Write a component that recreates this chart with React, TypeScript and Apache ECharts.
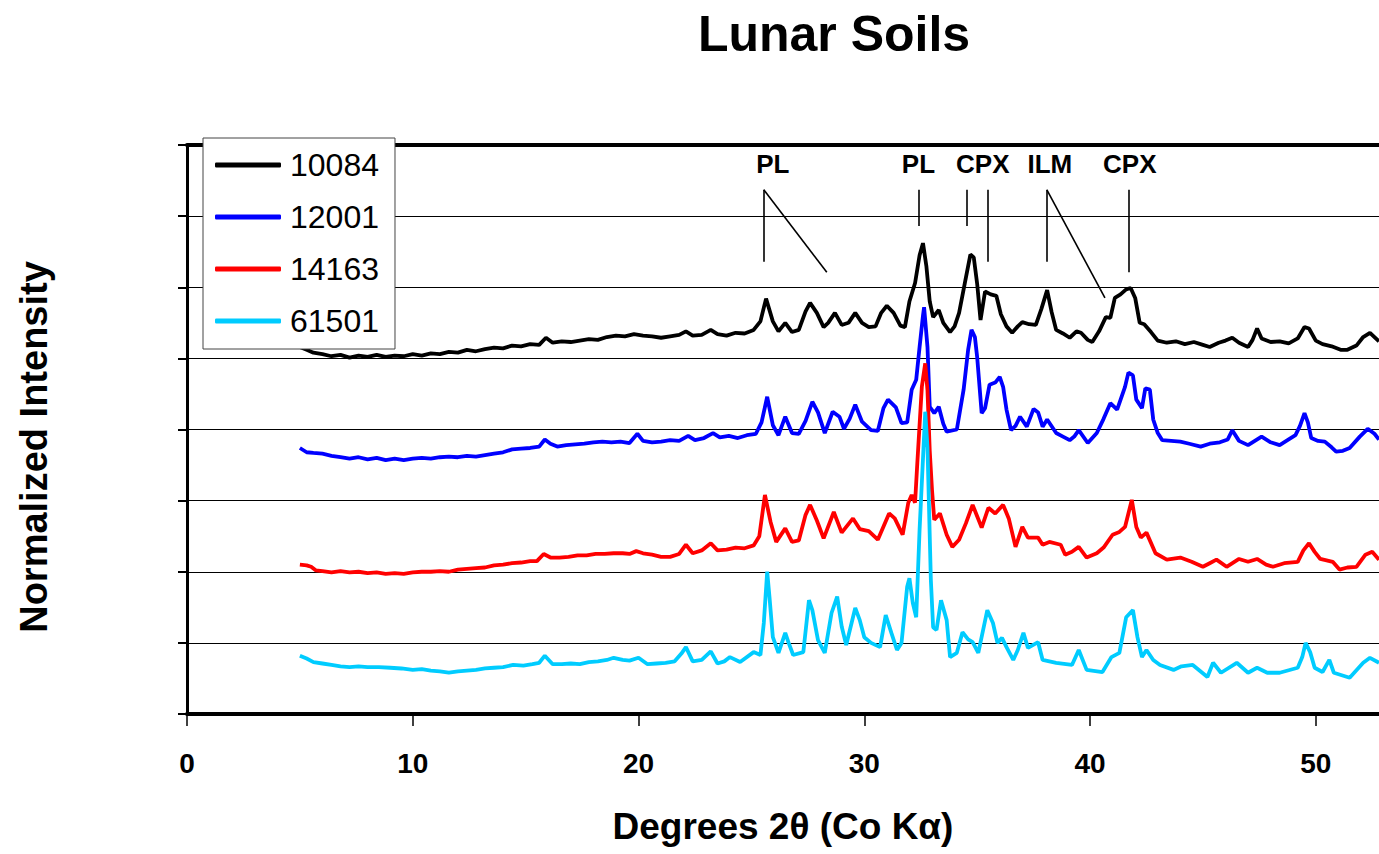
import React, { useEffect, useRef } from "react";
import * as echarts from "echarts";

const SERIES_NAMES = ["10084", "12001", "14163", "61501"];
const SERIES_COLORS = ["#000000", "#0000FF", "#FF0000", "#00CCFF"];

const S10084: number[][] = [
  [5.0,5.16],[5.3,5.12],[5.6,5.08],[6.0,5.06],[6.4,5.03],[6.8,5.05],[7.2,5.01],[7.6,5.04],[8.0,5.02],[8.4,5.05],[8.8,5.02],[9.2,5.04],[9.6,5.03],[10.0,5.06],[10.4,5.04],[10.8,5.07],[11.2,5.06],[11.6,5.09],[12.0,5.08],[12.4,5.12],[12.8,5.10],[13.2,5.13],[13.6,5.15],[14.0,5.14],[14.4,5.18],[14.8,5.17],[15.2,5.20],[15.6,5.19],[15.9,5.29],[16.2,5.22],[16.6,5.24],[17.0,5.23],[17.4,5.25],[17.8,5.27],[18.2,5.26],[18.6,5.30],[19.0,5.32],[19.4,5.31],[19.8,5.34],[20.2,5.32],[20.6,5.31],[21.0,5.29],[21.4,5.31],[21.8,5.33],[22.1,5.38],[22.4,5.32],[22.8,5.33],[23.2,5.40],[23.5,5.34],[23.9,5.32],[24.3,5.36],[24.7,5.35],[25.1,5.40],[25.4,5.52],[25.65,5.84],[25.95,5.52],[26.2,5.38],[26.5,5.50],[26.8,5.37],[27.1,5.40],[27.4,5.66],[27.6,5.78],[27.9,5.64],[28.2,5.44],[28.4,5.50],[28.7,5.64],[29.0,5.47],[29.3,5.50],[29.6,5.64],[29.9,5.50],[30.2,5.44],[30.5,5.45],[30.75,5.64],[31.0,5.74],[31.3,5.64],[31.6,5.46],[31.8,5.44],[32.0,5.80],[32.25,6.06],[32.45,6.45],[32.6,6.62],[32.75,6.30],[32.9,5.80],[33.05,5.58],[33.3,5.68],[33.5,5.50],[33.8,5.37],[34.0,5.45],[34.2,5.64],[34.45,6.05],[34.7,6.46],[34.85,6.42],[35.0,6.05],[35.15,5.54],[35.35,5.94],[35.6,5.90],[35.85,5.88],[36.05,5.62],[36.3,5.45],[36.55,5.36],[36.8,5.45],[37.0,5.51],[37.3,5.48],[37.6,5.47],[37.85,5.70],[38.1,5.96],[38.3,5.65],[38.5,5.40],[38.8,5.35],[39.1,5.29],[39.4,5.38],[39.6,5.36],[39.9,5.26],[40.1,5.23],[40.4,5.38],[40.7,5.58],[40.9,5.57],[41.1,5.85],[41.35,5.90],[41.6,5.97],[41.8,5.99],[42.0,5.85],[42.2,5.50],[42.4,5.48],[42.7,5.37],[43.0,5.25],[43.4,5.22],[43.8,5.24],[44.2,5.20],[44.6,5.23],[45.0,5.19],[45.3,5.16],[45.7,5.22],[46.0,5.25],[46.3,5.29],[46.6,5.22],[47.0,5.16],[47.2,5.26],[47.4,5.42],[47.6,5.28],[48.0,5.23],[48.4,5.24],[48.8,5.21],[49.2,5.28],[49.5,5.44],[49.7,5.42],[50.0,5.25],[50.3,5.20],[50.7,5.17],[51.1,5.12],[51.4,5.12],[51.8,5.18],[52.1,5.30],[52.4,5.36],[52.6,5.30],[52.8,5.24]
];

const S12001: number[][] = [
  [5.0,3.74],[5.3,3.68],[5.6,3.67],[6.0,3.66],[6.4,3.63],[6.8,3.61],[7.2,3.59],[7.6,3.61],[8.0,3.58],[8.4,3.60],[8.8,3.57],[9.2,3.59],[9.6,3.57],[10.0,3.59],[10.4,3.60],[10.8,3.59],[11.2,3.61],[11.6,3.62],[12.0,3.61],[12.4,3.63],[12.8,3.62],[13.2,3.64],[13.6,3.66],[14.0,3.68],[14.4,3.72],[14.8,3.73],[15.2,3.74],[15.6,3.76],[15.85,3.86],[16.1,3.80],[16.4,3.76],[16.8,3.78],[17.2,3.79],[17.6,3.80],[18.0,3.82],[18.4,3.83],[18.8,3.82],[19.2,3.83],[19.6,3.81],[19.95,3.94],[20.2,3.84],[20.6,3.82],[21.0,3.83],[21.4,3.85],[21.8,3.84],[22.2,3.91],[22.5,3.85],[22.9,3.88],[23.3,3.95],[23.6,3.89],[24.0,3.91],[24.4,3.88],[24.8,3.92],[25.2,3.94],[25.45,4.10],[25.7,4.46],[25.95,4.06],[26.2,3.92],[26.5,4.18],[26.8,3.95],[27.1,3.94],[27.4,4.12],[27.7,4.39],[27.95,4.24],[28.25,3.95],[28.6,4.25],[28.9,4.18],[29.1,4.01],[29.35,4.15],[29.6,4.35],[29.9,4.11],[30.3,3.99],[30.6,3.98],[30.85,4.30],[31.05,4.42],[31.4,4.31],[31.65,4.09],[31.9,4.10],[32.1,4.56],[32.3,4.70],[32.45,5.16],[32.6,5.60],[32.65,5.72],[32.8,5.16],[32.9,4.32],[33.1,4.23],[33.3,4.32],[33.5,4.08],[33.65,3.97],[34.1,4.00],[34.4,4.56],[34.6,5.12],[34.75,5.40],[34.9,5.30],[35.0,5.02],[35.2,4.23],[35.35,4.30],[35.55,4.63],[35.8,4.66],[36.0,4.74],[36.15,4.60],[36.3,4.28],[36.5,3.99],[36.7,4.05],[36.9,4.18],[37.2,4.04],[37.5,4.29],[37.7,4.24],[37.9,4.04],[38.1,4.14],[38.5,3.95],[38.8,3.90],[39.1,3.85],[39.3,3.90],[39.5,3.99],[39.9,3.81],[40.3,3.95],[40.6,4.15],[40.9,4.37],[41.2,4.28],[41.55,4.60],[41.7,4.80],[41.9,4.76],[42.05,4.42],[42.3,4.30],[42.45,4.58],[42.65,4.56],[42.8,4.14],[43.0,3.95],[43.2,3.85],[43.6,3.84],[44.0,3.83],[44.4,3.80],[44.9,3.76],[45.3,3.80],[45.75,3.82],[46.1,3.86],[46.3,3.99],[46.6,3.84],[47.0,3.78],[47.3,3.84],[47.6,3.90],[48.0,3.82],[48.4,3.78],[48.8,3.86],[49.1,3.92],[49.3,4.05],[49.5,4.23],[49.65,4.10],[49.8,3.88],[50.1,3.84],[50.4,3.83],[50.7,3.75],[50.9,3.69],[51.2,3.70],[51.5,3.74],[51.95,3.90],[52.3,4.01],[52.6,3.94],[52.8,3.86]
];

const S14163: number[][] = [
  [5.0,2.10],[5.3,2.09],[5.5,2.07],[5.7,2.02],[6.0,2.01],[6.4,1.99],[6.8,2.01],[7.2,1.99],[7.6,2.00],[8.0,1.98],[8.4,1.99],[8.8,1.97],[9.2,1.98],[9.6,1.97],[10.0,1.99],[10.4,2.00],[10.8,2.00],[11.2,2.01],[11.6,2.00],[12.0,2.03],[12.4,2.04],[12.8,2.05],[13.2,2.06],[13.6,2.09],[14.0,2.10],[14.4,2.12],[14.8,2.13],[15.2,2.15],[15.5,2.15],[15.8,2.25],[16.1,2.20],[16.5,2.20],[16.9,2.21],[17.3,2.23],[17.7,2.23],[18.1,2.25],[18.5,2.25],[18.9,2.26],[19.3,2.26],[19.6,2.25],[19.9,2.29],[20.2,2.26],[20.6,2.24],[21.0,2.21],[21.4,2.21],[21.8,2.25],[22.1,2.38],[22.4,2.26],[22.8,2.30],[23.2,2.40],[23.5,2.30],[23.9,2.31],[24.3,2.34],[24.7,2.33],[25.1,2.37],[25.35,2.50],[25.6,3.08],[25.85,2.70],[26.1,2.42],[26.5,2.61],[26.8,2.42],[27.1,2.44],[27.4,2.80],[27.6,2.94],[27.9,2.72],[28.2,2.47],[28.65,2.84],[29.0,2.55],[29.5,2.75],[29.8,2.60],[30.2,2.57],[30.6,2.45],[31.1,2.82],[31.35,2.75],[31.7,2.52],[31.95,2.97],[32.1,3.08],[32.25,2.97],[32.35,3.53],[32.55,4.60],[32.7,4.93],[32.8,4.55],[32.9,3.70],[33.0,3.15],[33.1,2.73],[33.35,2.82],[33.65,2.52],[33.9,2.35],[34.2,2.45],[34.5,2.68],[34.8,2.94],[35.0,2.78],[35.2,2.62],[35.5,2.90],[35.8,2.82],[36.15,2.94],[36.4,2.75],[36.7,2.35],[37.0,2.63],[37.25,2.48],[37.7,2.48],[37.9,2.38],[38.2,2.42],[38.7,2.38],[38.9,2.24],[39.2,2.28],[39.5,2.35],[39.85,2.20],[40.3,2.26],[40.6,2.34],[41.0,2.52],[41.3,2.56],[41.55,2.63],[41.7,2.82],[41.85,3.01],[42.05,2.63],[42.25,2.48],[42.5,2.55],[42.9,2.26],[43.4,2.17],[44.0,2.20],[44.5,2.14],[45.0,2.07],[45.3,2.12],[45.6,2.17],[46.05,2.07],[46.6,2.18],[47.0,2.14],[47.4,2.18],[47.8,2.10],[48.1,2.07],[48.6,2.12],[49.2,2.14],[49.45,2.30],[49.7,2.40],[49.95,2.28],[50.2,2.18],[50.75,2.14],[51.05,2.03],[51.4,2.06],[51.8,2.07],[52.2,2.24],[52.5,2.28],[52.8,2.17]
];

const S61501: number[][] = [
  [5.0,0.82],[5.3,0.78],[5.6,0.73],[6.0,0.71],[6.4,0.69],[6.8,0.67],[7.2,0.66],[7.6,0.67],[8.0,0.66],[8.5,0.66],[9.0,0.65],[9.5,0.64],[10.0,0.62],[10.4,0.63],[10.8,0.61],[11.2,0.60],[11.6,0.58],[12.0,0.60],[12.4,0.61],[12.8,0.62],[13.2,0.64],[13.6,0.65],[14.0,0.66],[14.45,0.69],[14.9,0.68],[15.3,0.70],[15.6,0.72],[15.85,0.82],[16.2,0.70],[16.6,0.70],[17.0,0.71],[17.4,0.70],[17.8,0.73],[18.2,0.74],[18.6,0.76],[18.9,0.79],[19.3,0.76],[19.6,0.75],[20.0,0.79],[20.4,0.70],[20.8,0.71],[21.2,0.72],[21.6,0.74],[21.9,0.85],[22.1,0.94],[22.4,0.74],[22.8,0.76],[23.2,0.88],[23.5,0.71],[23.8,0.74],[24.05,0.80],[24.5,0.73],[25.1,0.87],[25.4,0.83],[25.55,1.28],[25.7,2.00],[25.8,1.65],[25.95,1.08],[26.2,0.86],[26.5,1.14],[26.65,1.00],[26.85,0.83],[27.3,0.87],[27.55,1.60],[27.7,1.46],[27.95,1.04],[28.25,0.86],[28.55,1.42],[28.8,1.65],[29.0,1.23],[29.2,0.97],[29.6,1.49],[29.8,1.32],[30.0,1.08],[30.3,1.00],[30.7,0.94],[30.95,1.39],[31.2,1.14],[31.45,0.90],[31.65,1.00],[31.9,1.79],[32.0,1.91],[32.15,1.56],[32.3,1.36],[32.45,2.59],[32.7,4.25],[32.8,3.75],[32.95,1.88],[33.05,1.22],[33.2,1.18],[33.4,1.60],[33.65,1.32],[33.8,0.80],[34.1,0.86],[34.35,1.15],[34.6,1.05],[34.8,1.01],[35.05,0.86],[35.45,1.46],[35.7,1.28],[35.9,1.00],[36.1,1.07],[36.3,0.94],[36.6,0.76],[36.8,0.90],[37.05,1.14],[37.25,0.93],[37.7,1.01],[37.9,0.76],[38.5,0.72],[39.2,0.69],[39.5,0.90],[39.85,0.62],[40.55,0.59],[40.95,0.80],[41.3,0.86],[41.6,1.36],[41.9,1.46],[42.1,1.08],[42.3,0.80],[42.5,0.90],[42.8,0.76],[43.1,0.69],[43.7,0.62],[44.05,0.67],[44.55,0.69],[45.2,0.52],[45.45,0.72],[45.8,0.58],[46.5,0.72],[47.0,0.58],[47.4,0.65],[47.85,0.58],[48.4,0.58],[49.2,0.65],[49.4,0.80],[49.55,1.00],[49.75,0.87],[49.95,0.65],[50.3,0.59],[50.6,0.76],[50.8,0.58],[51.5,0.51],[52.1,0.72],[52.4,0.79],[52.8,0.72]
];

const SERIES_DATA = [S10084, S12001, S14163, S61501];

const X_MIN = 0;
const X_MAX = 52.8;
const X_INTERVAL = 10;
const Y_MIN = 0;
const Y_MAX = 8;
const Y_INTERVAL = 1;

const TITLE = "Lunar Soils";
const X_NAME = "Degrees 2\u03B8 (Co K\u03B1)";
const Y_NAME = "Normalized Intensity";

const ANNOT_LABELS = [
  { text: "PL", x: 25.95, y: 7.73 },
  { text: "PL", x: 32.4, y: 7.73 },
  { text: "CPX", x: 35.25, y: 7.73 },
  { text: "ILM", x: 38.22, y: 7.73 },
  { text: "CPX", x: 41.76, y: 7.73 },
];

const ANNOT_LINES: number[][][] = [
  [[25.55, 7.37], [25.55, 6.36]],
  [[25.55, 7.37], [28.34, 6.21]],
  [[32.42, 7.37], [32.42, 6.86]],
  [[34.54, 7.37], [34.54, 6.86]],
  [[35.47, 7.37], [35.47, 6.36]],
  [[38.09, 7.37], [38.09, 6.36]],
  [[38.09, 7.37], [40.66, 5.85]],
  [[41.72, 7.37], [41.72, 6.21]],
];

export default function App() {
  const ref = useRef<HTMLDivElement>(null);

  useEffect(() => {
    if (!ref.current) return;
    const chart = echarts.init(ref.current, null, { renderer: "svg" });
    const font = "'Liberation Sans', Arial, Helvetica, sans-serif";

    const series: any[] = SERIES_NAMES.map((name, i) => ({
      name,
      type: "line",
      data: SERIES_DATA[i],
      xAxisIndex: 0,
      yAxisIndex: 0,
      symbol: "none",
      showSymbol: false,
      lineStyle: { color: SERIES_COLORS[i], width: 3.8 },
      itemStyle: { color: SERIES_COLORS[i] },
      z: 2 + i,
      ...(i === 0
        ? {
            markLine: {
              silent: true,
              symbol: ["none", "none"],
              label: { show: false },
              lineStyle: { color: "#000", width: 1.6, type: "solid" },
              emphasis: { disabled: true },
              data: ANNOT_LINES.map((l) => [
                { coord: l[0] },
                { coord: l[1] },
              ]),
            },
          }
        : {}),
    }));

    const option: any = {
      animation: false,
      backgroundColor: "#fff",
      textStyle: { fontFamily: font },
      grid: { left: 187, right: 0, top: 145, bottom: 140, containLabel: false },
      legend: {
        data: SERIES_NAMES,
        orient: "vertical",
        left: 203,
        top: 138,
        itemWidth: 66,
        itemHeight: 5,
        itemGap: 20,
        icon: "roundRect",
        padding: [11, 16, 12, 12],
        backgroundColor: "#fff",
        borderColor: "#444",
        borderWidth: 1,
        borderRadius: 0,
        selectedMode: false,
        textStyle: {
          fontSize: 32,
          fontFamily: font,
          color: "#000",
          lineHeight: 32,
          padding: [0, 0, 0, 4],
        },
      },
      xAxis: [
        {
          type: "value",
          min: X_MIN,
          max: X_MAX,
          interval: X_INTERVAL,
          position: "bottom",
          axisLine: { show: true, onZero: false, lineStyle: { color: "#000", width: 4 } },
          axisTick: { show: true, length: 12, lineStyle: { color: "#000", width: 1.5 } },
          axisLabel: {
            show: true,
            showMaxLabel: false,
            margin: 35,
            fontSize: 28,
            fontWeight: "bold",
            fontFamily: font,
            color: "#000",
          },
          splitLine: { show: false },
          name: X_NAME,
          nameLocation: "middle",
          nameGap: 94,
          nameTextStyle: { fontSize: 37, fontWeight: "bold", fontFamily: font, color: "#000" },
        },
        {
          type: "value",
          min: X_MIN,
          max: X_MAX,
          interval: X_INTERVAL,
          position: "top",
          axisLine: { show: true, onZero: false, lineStyle: { color: "#000", width: 4 } },
          axisTick: { show: false },
          axisLabel: { show: false },
          splitLine: { show: false },
        },
      ],
      yAxis: {
        type: "value",
        min: Y_MIN,
        max: Y_MAX,
        interval: Y_INTERVAL,
        axisLine: { show: true, onZero: false, lineStyle: { color: "#000", width: 3 } },
        axisTick: { show: true, length: 9, lineStyle: { color: "#000", width: 2 } },
        axisLabel: { show: false },
        splitLine: { show: true, lineStyle: { color: "#000", width: 1 } },
      },
      series,
    };

    chart.setOption(option);

    const labelGraphics = ANNOT_LABELS.map((a) => {
      const p = chart.convertToPixel({ xAxisIndex: 0, yAxisIndex: 0 } as any, [a.x, a.y]) as number[];
      return {
        type: "text",
        x: p[0],
        y: p[1],
        z: 10,
        silent: true,
        style: {
          text: a.text,
          font: `bold 26px ${font}`,
          fill: "#000",
          align: "center",
          verticalAlign: "middle",
        },
      };
    });

    chart.setOption({
      graphic: [
        {
          type: "text",
          x: 834,
          y: 34,
          z: 10,
          silent: true,
          style: {
            text: TITLE,
            font: `bold 50px ${font}`,
            fill: "#000",
            align: "center",
            verticalAlign: "middle",
          },
        },
        {
          type: "text",
          x: 34,
          y: 447,
          rotation: Math.PI / 2,
          z: 10,
          silent: true,
          style: {
            text: Y_NAME,
            font: `bold 38px ${font}`,
            fill: "#000",
            align: "center",
            verticalAlign: "middle",
          },
        },
        ...labelGraphics,
      ],
    });

    return () => chart.dispose();
  }, []);

  return (
    <div
      ref={ref}
      style={{ position: "fixed", left: 0, top: 0, width: 1379, height: 854 }}
    />
  );
}
